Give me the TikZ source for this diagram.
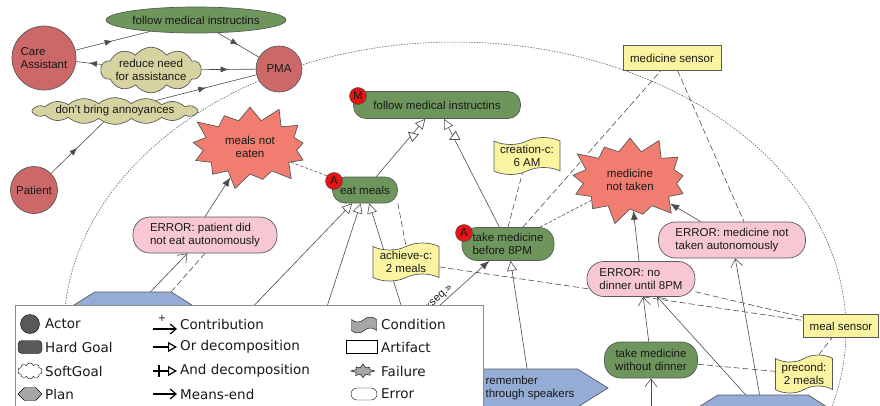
\documentclass[tikz,border=0pt]{standalone}
\usepackage{fontspec}
\setmainfont{Liberation Sans}
\newfontfamily\legendfont{DejaVu Sans}
\usepackage{tikz}
\usetikzlibrary{arrows.meta, shapes.geometric, shapes.symbols, decorations.markings, backgrounds}

\definecolor{actorred}{RGB}{204,104,104}
\definecolor{goalgreen}{RGB}{110,150,92}
\definecolor{softkhaki}{RGB}{214,211,160}
\definecolor{failred}{RGB}{240,125,112}
\definecolor{errpink}{RGB}{247,200,212}
\definecolor{artyellow}{RGB}{250,244,160}
\definecolor{planblue}{RGB}{148,172,214}
\definecolor{badgered}{RGB}{230,20,20}

\begin{document}
\begin{tikzpicture}[x=1pt, y=-1pt,
  every node/.style={font=\fontsize{11.5}{13.5}\selectfont, inner sep=0pt, align=center, text=black!90},
  box/.style={draw=black!65, line width=0.7pt},
  actor/.style={box, shape=circle, fill=actorred},
  hardgoal/.style={box, shape=rectangle, rounded corners=12.5pt, fill=goalgreen},
  softgoal/.style={box, shape=cloud, cloud ignores aspect, fill=softkhaki},
  failure/.style={box, shape=starburst, fill=failred, starburst points=13, starburst point height=18pt},
  error/.style={box, shape=rectangle, rounded corners=17pt, fill=errpink},
  artifact/.style={box, shape=rectangle, fill=artyellow},
  condition/.style={box, shape=tape, fill=artyellow, tape bend height=7pt},
  plan/.style={box, shape=signal, signal to=east and west, signal pointer angle=64, fill=planblue},
  badge/.style={draw=black!70, line width=0.5pt, shape=circle, fill=badgered, minimum size=17pt},
  link/.style={draw=black!70, line width=0.6pt},
  dep/.style={link, postaction={decorate}, decoration={markings, mark=at position 0.5 with {\arrow{Latex[length=8pt,width=6pt]}}}},
  ordec/.style={link, -{Triangle[length=10pt,width=10pt,fill=white]}},
  anddec/.style={ordec, postaction={decorate}, decoration={markings, mark=at position -21pt with {\draw [black!70, line width=0.7pt] (0,-5pt) -- (0,5pt);}}},
  meansend/.style={link, -{Straight Barb[length=8pt,width=12pt]}},
  failarrow/.style={link, -{Latex[length=9pt,width=7pt]}},
  rel/.style={link, dash pattern=on 6pt off 3pt},
  nearrel/.style={link, dash pattern=on 3pt off 2pt},
  boundary/.style={draw=black!70, line width=0.5pt, dash pattern=on 1.5pt off 1.2pt},
  ltext/.style={anchor=west, font=\legendfont\fontsize{13.5}{15}\selectfont}]
\useasboundingbox (0,0) rectangle (880,405);
\node [actor, minimum size=64pt, align=left] (care) at (44,58) {Care\\Assistant};
\node [actor, minimum size=46pt] (pma) at (279,69) {PMA};
\node [actor, minimum size=47pt] (patient) at (34,190) {Patient};
\node [box, shape=ellipse, fill=goalgreen, minimum width=167pt, minimum height=26pt] (follow) at (196,20) {follow medical instructins};
\node [softgoal, cloud puffs=10, cloud puff arc=110, minimum width=92pt, minimum height=30pt] (reduce) at (151,70) {reduce need\\for assistance};
\node [softgoal, cloud puffs=16, cloud puff arc=80, minimum width=160pt, minimum height=18pt] (annoy) at (115,111) {don't bring annoyances};
\node [failure, minimum width=130pt, minimum height=90pt] (meals) at (250,147) {meals not\\eaten};
\node [hardgoal, minimum width=167pt, minimum height=27pt] (followm) at (437,105) {follow medical instructins};
\node [hardgoal, minimum width=65pt, minimum height=26pt] (eat) at (365,190) {eat meals};
\node [hardgoal, rounded corners=15pt, minimum width=92pt, minimum height=33pt, align=left] (tmb) at (508,244) {take medicine\\before 8PM};
\node [hardgoal, rounded corners=16pt, minimum width=93pt, minimum height=36pt] (tmw) at (651,360) {take medicine\\without dinner};
\node [failure, minimum width=130pt, minimum height=94pt] (mednot) at (630,180) {medicine\\not taken};
\node [error, minimum width=144pt, minimum height=36pt, align=left] (errpat) at (205,235) {ERROR: patient did\\not eat autonomously};
\node [error, minimum width=147pt, minimum height=36pt, align=left] (errmed) at (732,240) {ERROR: medicine not\\taken autonomously};
\node [error, minimum width=108pt, minimum height=35pt, align=left] (errdin) at (641,279) {ERROR: no\\dinner until 8PM};
\node [artifact, minimum width=98pt, minimum height=25pt] (medsens) at (672,58) {medicine sensor};
\node [artifact, minimum width=75pt, minimum height=23pt] (mealsens) at (841,326) {meal sensor};
\node [condition, minimum width=66pt, minimum height=37pt] (creat) at (527,156) {creation-c:\\6 AM};
\node [condition, minimum width=66pt, minimum height=38pt] (achieve) at (406,262) {achieve-c:\\2 meals};
\node [condition, minimum width=57pt, minimum height=38pt] (precond) at (804,374) {precond:\\2 meals};
\node [plan, minimum width=134pt, minimum height=36pt] (call) at (133,310) {call assistant};
\node [plan, minimum width=156pt, minimum height=38pt, align=left] (remember) at (530,388) {remember\\through speakers};
\node [plan, minimum width=151pt, minimum height=38pt] (speak) at (763,414) {};
\node [badge] (bm) at (358,96) {M};
\node [badge] (ba) at (334,181) {A};
\node [badge] (bb) at (464,233) {A};
\coordinate (h1) at (144,420);
\coordinate (h2) at (290,420);
\coordinate (h3) at (437,420);
\coordinate (h4) at (312,420);
\coordinate (h5) at (651,440);
\begin{scope}[on background layer]
\draw [boundary] (455,330) ellipse [x radius=391, y radius=288];
\draw [dep] (care) -- (follow);
\draw [dep] (follow) -- (pma);
\draw [dep] (reduce) -- (care);
\draw [dep] (reduce) -- (pma);
\draw [dep] (annoy) -- (pma);
\draw [dep] (patient) -- (annoy);
\draw [failarrow] (errpat.north) -- (meals);
\draw [failarrow] (errdin) -- (mednot);
\draw [failarrow] (errmed) -- (mednot);
\draw [meansend] (call) -- (errpat);
\draw [meansend] (tmw) -- (errdin);
\draw [meansend] (speak) -- (errdin);
\draw [meansend] (speak) -- (errmed);
\draw [meansend] (h5) -- (tmw);
\draw [anddec] (eat) -- (followm);
\draw [anddec] (tmb) -- (followm);
\draw [ordec] (h1) -- (eat);
\draw [ordec] (h2) -- (eat);
\draw [ordec] (h3) -- (eat);
\draw [ordec] (remember) -- (tmb);
\draw [failarrow] (h4) -- node [sloped, above=1.5pt, pos=0.74, font=\fontsize{11}{13}\selectfont] {«seq.»} (tmb);
\draw [nearrel] (meals) -- (eat);
\draw [nearrel] (tmb) -- (mednot);
\draw [rel] (call.north east) -- (errpat.south);
\draw [rel] (eat.south east) -- (achieve.north);
\draw [rel] (achieve) -- (mealsens);
\draw [rel] (errdin) -- (mealsens);
\draw [rel] (tmw) -- (precond);
\draw [rel] (precond) -- (mealsens);
\draw [rel] (tmb.north) -- (creat);
\draw [rel] (tmb) -- (medsens);
\draw [rel] (medsens) -- ([xshift=12pt]errmed.north);
\end{scope}
\node [draw=black!45, line width=0.6pt, fill=white, minimum width=468pt, minimum height=115pt, anchor=north west] (legend) at (15,305) {};
\node [draw=black, fill=black!65, shape=circle, minimum size=19pt] (iactor) at (30,324) {};
\node [draw=black, fill=black!65, rounded corners=4pt, minimum width=24pt, minimum height=13pt] (ihard) at (30,347) {};
\node [draw=black, fill=white, shape=cloud, cloud puffs=10, aspect=1.5, minimum width=24pt, minimum height=16pt] (isoft) at (30,371) {};
\node [draw=black, fill=black!35, shape=signal, signal to=east and west, minimum width=24pt, minimum height=13pt] (iplan) at (30,394) {};
\node [ltext] (tactor) at (45,324) {Actor};
\node [ltext] (thard) at (45,347) {Hard Goal};
\node [ltext] (tsoft) at (45,371) {SoftGoal};
\node [ltext] (tplan) at (45,394) {Plan};
\coordinate (acontr) at (153,329);
\coordinate (aor) at (153,347);
\coordinate (aand) at (153,371);
\coordinate (ameans) at (153,394);
\draw [black, line width=1.2pt, -{Straight Barb[length=6pt,width=10pt]}] (acontr) -- ++(24,0);
\node [font=\legendfont\fontsize{10}{10}\selectfont] (plus) at (162,318) {+};
\draw [black, line width=1.2pt, -{Triangle[length=9pt,width=10pt,fill=white]}] (aor) -- ++(24,0);
\draw [black, line width=1.2pt, -{Triangle[length=9pt,width=10pt,fill=white]}] (aand) -- ++(24,0);
\draw [black, line width=1.2pt] (aand) ++(6,-6) -- ++(0,12);
\draw [black, line width=1.2pt, -{Straight Barb[length=6pt,width=10pt]}] (ameans) -- ++(24,0);
\node [ltext] (tcontr) at (180,324) {Contribution};
\node [ltext] (tor) at (180,347) {Or decomposition};
\node [ltext] (tand) at (180,371) {And decomposition};
\node [ltext] (tmeans) at (180,394) {Means-end};
\node [draw=black, fill=black!35, shape=tape, tape bend height=5pt, minimum width=25pt, minimum height=16pt] (icond) at (364,325) {};
\node [draw=black, fill=white, minimum width=31pt, minimum height=13pt] (iart) at (362,347) {};
\node [draw=black, fill=black!35, shape=starburst, starburst points=8, starburst point height=5pt, minimum width=25pt, minimum height=17pt] (ifail) at (363,371) {};
\node [draw=black, fill=white, rounded corners=6pt, minimum width=26pt, minimum height=12pt] (ierr) at (364,394) {};
\node [ltext] (tcond) at (381,324) {Condition};
\node [ltext] (tart) at (381,347) {Artifact};
\node [ltext] (tfail) at (381,371) {Failure};
\node [ltext] (terr) at (381,394) {Error};
\end{tikzpicture}
\end{document}
